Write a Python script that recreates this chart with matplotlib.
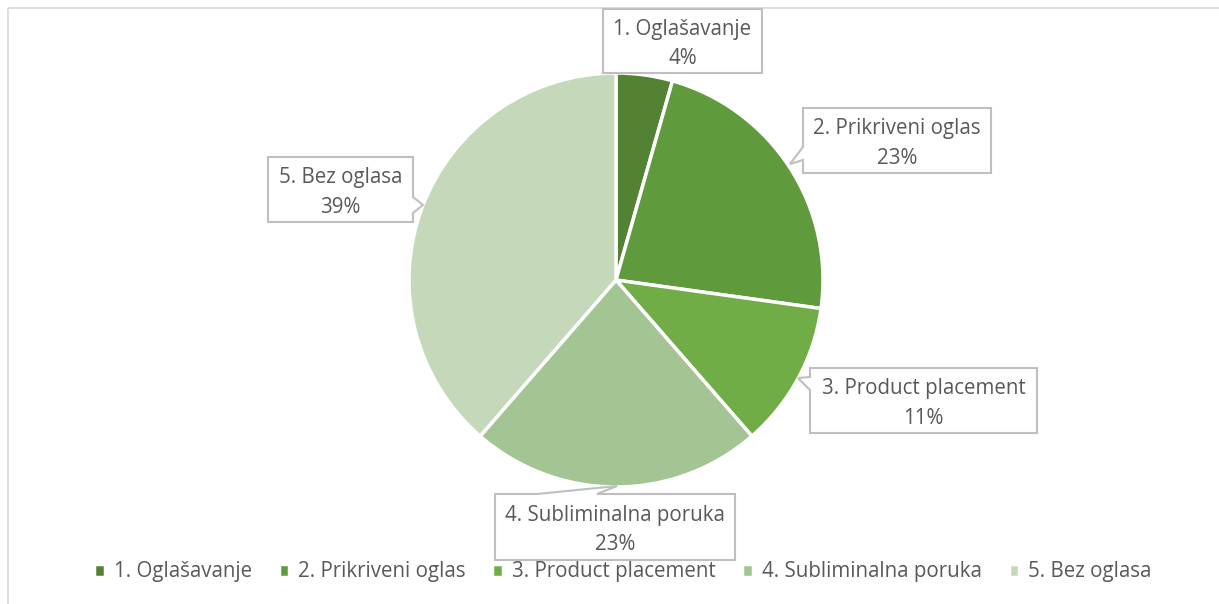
import matplotlib.pyplot as plt
from matplotlib.patches import Polygon, Rectangle

# data
labels = ['1. Oglašavanje', '2. Prikriveni oglas', '3. Product placement',
          '4. Subliminalna poruka', '5. Bez oglasa']
values = [4.4, 22.8, 11.4, 22.8, 38.6]
colors = ['#548235', '#5f9a3d', '#70ad47', '#a3c593', '#c5d9ba']

plt.rcParams['font.family'] = ['Open Sans', 'DejaVu Sans']
text_color = '#595959'
edge_gray = '#bfbfbf'

W, H = 1219, 604
fig = plt.figure(figsize=(W / 100, H / 100), dpi=100)
ax = fig.add_axes([0, 0, 1, 1])

# pie in pixel coordinates (y axis inverted below, so counterclock looks clockwise)
wedges, _ = ax.pie(values, colors=colors, center=(616, 280), radius=207,
                   startangle=-90, counterclock=True,
                   wedgeprops=dict(edgecolor='white', linewidth=2.5))
ax.set_xlim(0, W)
ax.set_ylim(H, 0)
ax.set_aspect('auto')
ax.axis('off')

# outer chart border
ax.add_patch(Rectangle((8, 8), W, H, fill=False, edgecolor='#d9d9d9', lw=1.2, zorder=0))


def callout(box, text, notch=None):
    """box = (x0, y0, x1, y1); notch = (side, a, b, tip) with a,b along the side"""
    x0, y0, x1, y1 = box
    pts = [(x0, y0)]
    if notch and notch[0] == 'top':
        _, a, b, tip = notch
        pts += [(a, y0), tip, (b, y0)]
    pts.append((x1, y0))
    if notch and notch[0] == 'right':
        _, a, b, tip = notch
        pts += [(x1, a), tip, (x1, b)]
    pts.append((x1, y1))
    pts.append((x0, y1))
    if notch and notch[0] == 'left':
        _, a, b, tip = notch
        pts += [(x0, b), tip, (x0, a)]
    ax.add_patch(Polygon(pts, closed=True, facecolor='white', edgecolor=edge_gray,
                         lw=1.5, zorder=5))
    ax.text((x0 + x1) / 2, (y0 + y1) / 2 + 3, text, ha='center', va='center',
            color=text_color, fontsize=14.8, linespacing=1.55, zorder=6)


pct = [f'{v:.0f}%' for v in values]
callout((603, 9, 762, 73), f'{labels[0]}\n{pct[0]}')
callout((803, 108, 991, 173), f'{labels[1]}\n{pct[1]}', ('left', 147, 160, (790, 164)))
callout((810, 368, 1037, 433), f'{labels[2]}\n{pct[2]}', ('left', 377, 390, (798, 378)))
callout((495, 494, 735, 560), f'{labels[3]}\n{pct[3]}', ('top', 537, 597, (617, 486)))
callout((268, 157, 413, 222), f'{labels[4]}\n{pct[4]}', ('right', 197, 213, (423, 205)))

fig.legend(wedges, labels, loc='center', bbox_to_anchor=(0.511, 1 - 572 / H), ncol=5,
           frameon=False, fontsize=14.8, labelcolor=text_color,
           handlelength=0.5, handleheight=0.6, handletextpad=0.45,
           columnspacing=1.3)

fig.savefig('out.png', dpi=100)
